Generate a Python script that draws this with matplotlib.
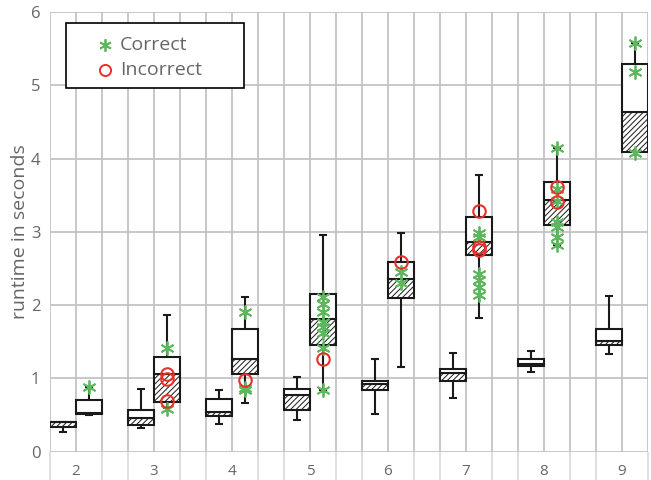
import matplotlib
matplotlib.use("Agg")
import matplotlib.pyplot as plt
from matplotlib.patches import Rectangle
import numpy as np

plt.rcParams['font.family'] = ['Open Sans', 'DejaVu Sans']
plt.rcParams['hatch.color'] = '#666666'
plt.rcParams['hatch.linewidth'] = 0.7

categories = [2, 3, 4, 5, 6, 7, 8, 9]

# left boxes: lower whisker, q1, median, q3, upper whisker
left_lo  = [0.27, 0.33, 0.38, 0.43, 0.51, 0.73, 1.09, 1.34]
left_q1  = [0.34, 0.37, 0.49, 0.565, 0.84, 0.97, 1.17, 1.455]
left_med = [0.40, 0.455, 0.54, 0.77, 0.92, 1.07, 1.19, 1.51]
left_q3  = [0.41, 0.565, 0.72, 0.85, 0.97, 1.13, 1.26, 1.67]
left_hi  = [0.41, 0.85, 0.84, 1.015, 1.26, 1.35, 1.38, 2.13]

# right boxes
right_lo  = [0.50, 0.60, 0.67, 0.84, 1.16, 1.83, 2.82, 4.09]
right_q1  = [0.51, 0.68, 1.06, 1.455, 2.10, 2.68, 3.09, 4.09]
right_med = [0.53, 1.06, 1.26, 1.815, 2.355, 2.86, 3.43, 4.64]
right_q3  = [0.71, 1.29, 1.68, 2.15, 2.59, 3.20, 3.675, 5.29]
right_hi  = [0.88, 1.87, 2.11, 2.96, 2.99, 3.77, 4.14, 5.58]

correct = {
    2: [0.88],
    3: [1.42, 0.58],
    4: [1.90, 0.865, 0.84],
    5: [2.115, 2.02, 1.91, 1.77, 1.705, 1.615, 1.41, 0.84],
    6: [2.455, 2.30],
    7: [2.98, 2.93, 2.43, 2.34, 2.25, 2.14],
    8: [4.14, 3.59, 3.42, 3.14, 3.07, 2.93, 2.82],
    9: [5.58, 5.18, 4.08],
}
incorrect = {
    3: [1.06, 0.99, 0.69],
    4: [0.98],
    5: [1.27],
    6: [2.59],
    7: [3.29, 2.80, 2.75],
    8: [3.615, 3.41],
}
legend_labels = ['Correct', 'Incorrect']

W = 1/3
fig = plt.figure(figsize=(6.51, 4.8), dpi=100)
ax = fig.add_axes([50/651, 1-451.7/480, 598/651, (451.7-12)/480])

xmin, xmax = categories[0]-W, categories[-1]+W
ax.set_xlim(xmin, xmax)
ax.set_ylim(0, 6)

grid_c = '#c4c4c8'
for gx in np.arange(xmin, xmax+1e-6, W):
    ax.axvline(gx, color=grid_c, lw=1.3, zorder=0)
for gy in range(0, 7):
    ax.axhline(gy, color=grid_c, lw=1.3, zorder=0)
for s in ax.spines.values():
    s.set_visible(False)

cat = np.array(categories, dtype=float)

def draw(xleft, lo, q1, med, q3, hi):
    lo, q1, med, q3, hi = map(np.array, (lo, q1, med, q3, hi))
    xc = xleft + W/2
    ax.vlines(xc, q3, hi, color='#1a1a1a', lw=1.5, zorder=2)
    ax.vlines(xc, lo, q1, color='#1a1a1a', lw=1.5, zorder=2)
    ax.hlines(hi, xc-0.05, xc+0.05, color='#1a1a1a', lw=1.5, zorder=2)
    ax.hlines(lo, xc-0.05, xc+0.05, color='#1a1a1a', lw=1.5, zorder=2)
    ax.bar(xleft, med-q1, width=W, bottom=q1, align='edge', facecolor='white',
           edgecolor='#1a1a1a', hatch='//////', lw=1.5, zorder=3)
    ax.bar(xleft, q3-med, width=W, bottom=med, align='edge', facecolor='white',
           edgecolor='#1a1a1a', lw=1.5, zorder=3)

draw(cat - W, left_lo, left_q1, left_med, left_q3, left_hi)
draw(cat, right_lo, right_q1, right_med, right_q3, right_hi)

green = '#5cb85c'
red = '#e8302a'
cx, cy = [], []
for c, vals in correct.items():
    cx += [c + W/2]*len(vals); cy += vals
ix, iy = [], []
for c, vals in incorrect.items():
    ix += [c + W/2]*len(vals); iy += vals
ax.plot(cx, cy, linestyle='none', marker=(6, 2, 0), markersize=10,
        markeredgecolor=green, markeredgewidth=1.3, color=green, zorder=5)
ax.plot(ix, iy, linestyle='none', marker='o', markersize=9, markerfacecolor='none',
        markeredgecolor=red, markeredgewidth=1.5, zorder=6)

ax.set_xticks(categories)
ax.set_xticklabels([str(c) for c in categories])
ax.tick_params(axis='x', which='major', length=0, pad=9, labelsize=11, labelcolor='#666666')
bounds = sorted(set([c - W for c in categories] + [c + W for c in categories]))
ax.set_xticks(bounds, minor=True)
ax.tick_params(axis='x', which='minor', length=20, width=1.3, color='#dcdcdc')
ax.set_yticks(range(0, 7))
ax.tick_params(axis='y', length=0, pad=7, labelsize=12, labelcolor='#666666')
ax.set_ylabel('runtime in seconds', fontsize=14, color='#666666', labelpad=1)

# legend box (drawn manually)
ax.add_patch(Rectangle((0.0268, 0.827), 0.2976, 0.148, transform=ax.transAxes,
                       facecolor='white', edgecolor='black', lw=1.2, zorder=10))
ax.plot([0.092], [0.925], transform=ax.transAxes, marker=(6, 2, 0), markersize=9,
        markeredgecolor=green, markeredgewidth=1.3, linestyle='none', zorder=11)
ax.plot([0.092], [0.868], transform=ax.transAxes, marker='o', markersize=8,
        markerfacecolor='none', markeredgecolor=red, markeredgewidth=1.4,
        linestyle='none', zorder=11)
ax.text(0.117, 0.925, legend_labels[0], transform=ax.transAxes, fontsize=14,
        color='#666666', va='center', ha='left', zorder=11)
ax.text(0.117, 0.868, legend_labels[1], transform=ax.transAxes, fontsize=14,
        color='#666666', va='center', ha='left', zorder=11)

fig.savefig('out.png', dpi=100)
